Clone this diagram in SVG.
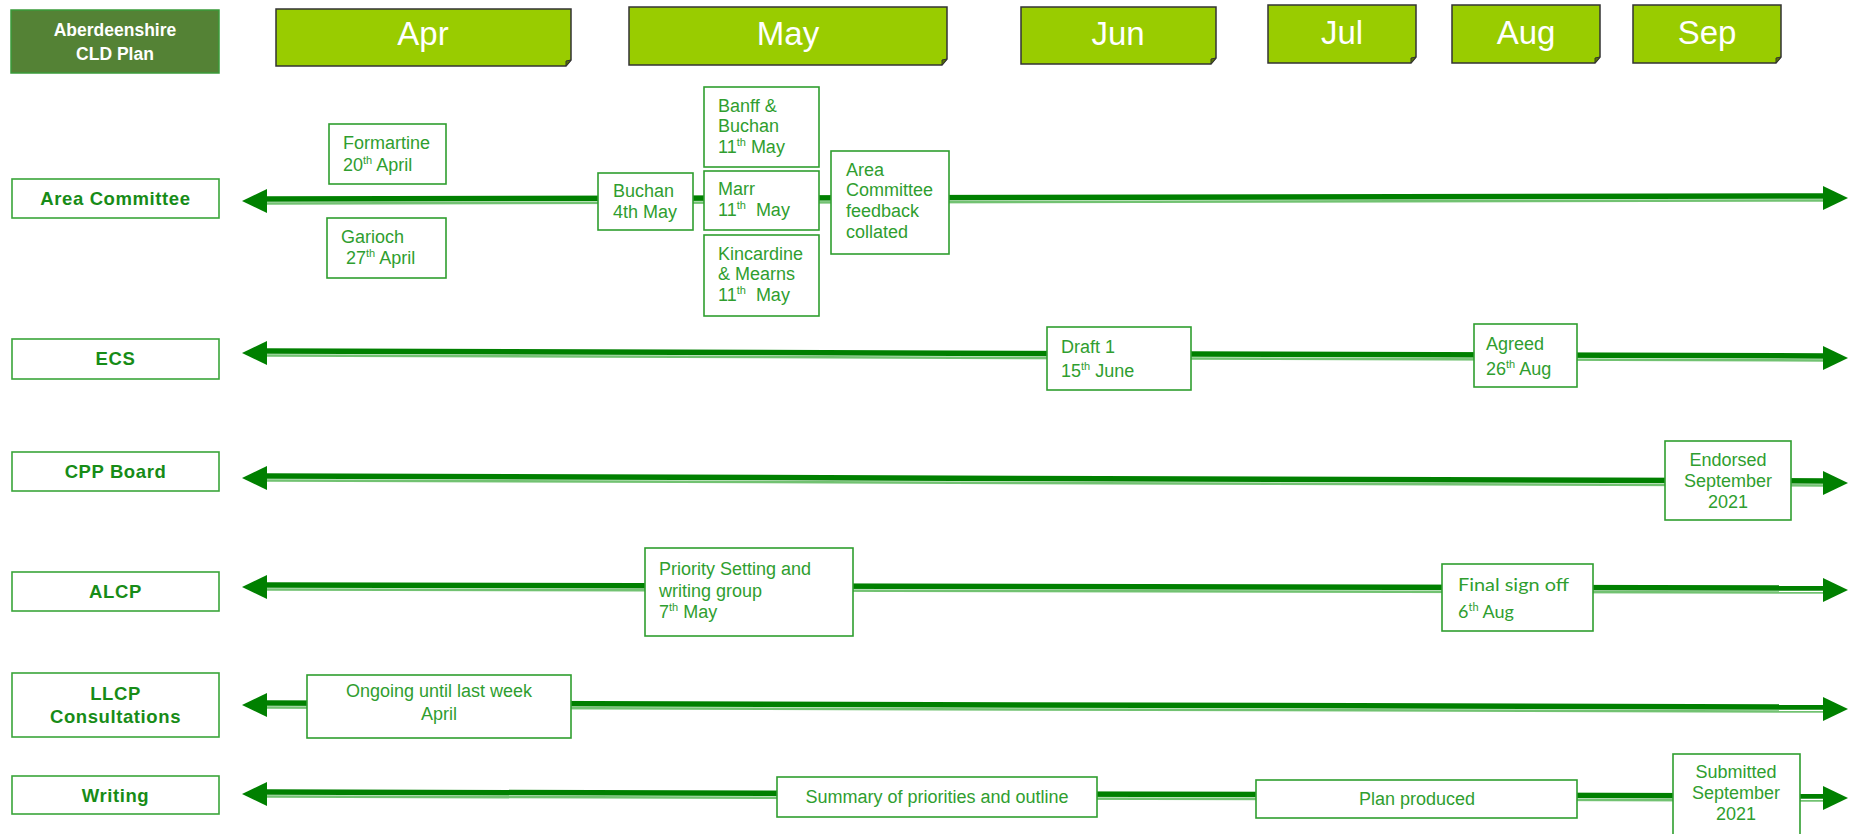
<svg xmlns="http://www.w3.org/2000/svg" width="1849" height="834" viewBox="0 0 1849 834">
<style>
text{font-family:"Liberation Sans",Arial,sans-serif}
.bg{fill:#ffffff}
.lbl rect{fill:#ffffff;stroke:#3aa53a;stroke-width:1.6}
.lbl text{fill:#178c17;font-weight:bold;font-size:18.5px;letter-spacing:0.6px;text-anchor:middle}
.ev rect{fill:#ffffff;stroke:#2f9e2f;stroke-width:1.6}
.ev text{fill:#2f9e2f;font-size:18px}
.ev .c{text-anchor:middle}
.mo path.b{fill:#99cc00;stroke:#333333;stroke-width:1.5}
.mo path.f{fill:#5a7800;stroke:#333333;stroke-width:1}
.mo text{fill:#ffffff;font-size:33px;text-anchor:middle}
.sup{font-size:11px}
.dk{stroke:#008000;stroke-width:5.5;fill:none}
.lt{stroke:#72c272;stroke-width:2.5;fill:none}
.hd{fill:#008000}
.cal{font-family:Lato,"Open Sans","Liberation Sans",sans-serif}
</style>
<rect class="bg" x="0" y="0" width="1849" height="834"/>

<g id="header">
  <rect x="11" y="10" width="208" height="63" fill="#548235" stroke="#3a9a3a" stroke-width="1.5"/>
  <text x="115" y="36" fill="#ffffff" font-size="17.5" font-weight="bold" text-anchor="middle">Aberdeenshire</text>
  <text x="115" y="60" fill="#ffffff" font-size="17.5" font-weight="bold" text-anchor="middle">CLD Plan</text>
</g>

<g id="months" class="mo">
  <g id="m-apr"><path class="b" d="M276,9 H571 V60 L566,66 H276 Z"/><path class="f" d="M571,60 L566,66 L566,61 Z"/><text x="423" y="45">Apr</text></g>
  <g id="m-may"><path class="b" d="M629,7 H947 V59 L942,65 H629 Z"/><path class="f" d="M947,59 L942,65 L942,60 Z"/><text x="788" y="45">May</text></g>
  <g id="m-jun"><path class="b" d="M1021,7 H1216 V58 L1211,64 H1021 Z"/><path class="f" d="M1216,58 L1211,64 L1211,59 Z"/><text x="1118" y="45">Jun</text></g>
  <g id="m-jul"><path class="b" d="M1268,5 H1416 V57 L1411,63 H1268 Z"/><path class="f" d="M1416,57 L1411,63 L1411,58 Z"/><text x="1342" y="44">Jul</text></g>
  <g id="m-aug"><path class="b" d="M1452,5 H1600 V57 L1595,63 H1452 Z"/><path class="f" d="M1600,57 L1595,63 L1595,58 Z"/><text x="1526" y="44">Aug</text></g>
  <g id="m-sep"><path class="b" d="M1633,5 H1781 V57 L1776,63 H1633 Z"/><path class="f" d="M1781,57 L1776,63 L1776,58 Z"/><text x="1707" y="44">Sep</text></g>
</g>

<g id="connectors">
  <!-- Area Committee -->
  <path class="dk" d="M264,199 L1826,196"/><path class="lt" d="M264,203.5 L1826,200.5"/>
  <polygon class="hd" points="242,201 267,189 267,213"/><polygon class="hd" points="1848,198 1823,186 1823,210"/>
  <!-- ECS -->
  <path class="dk" d="M264,351 L1826,356"/><path class="lt" d="M264,355.5 L1826,360.5"/>
  <polygon class="hd" points="242,353 267,341 267,365"/><polygon class="hd" points="1848,358 1823,346 1823,370"/>
  <!-- CPP -->
  <path class="dk" d="M264,476 L1826,481"/><path class="lt" d="M264,480.5 L1826,485.5"/>
  <polygon class="hd" points="242,478 267,466 267,490"/><polygon class="hd" points="1848,483 1823,471 1823,495"/>
  <!-- ALCP -->
  <path class="dk" d="M264,585 L1826,588"/><path class="lt" d="M264,589.5 L1826,592.5"/>
  <polygon class="hd" points="242,587 267,575 267,599"/><polygon class="hd" points="1848,590 1823,578 1823,602"/>
  <!-- LLCP -->
  <path class="dk" d="M264,703 L1826,707"/><path class="lt" d="M264,707.5 L1826,711.5"/>
  <polygon class="hd" points="242,705 267,693 267,717"/><polygon class="hd" points="1848,709 1823,697 1823,721"/>
  <!-- Writing -->
  <path class="dk" d="M264,792 L1826,796"/><path class="lt" d="M264,796.5 L1826,800.5"/>
  <polygon class="hd" points="242,794 267,782 267,806"/><polygon class="hd" points="1848,798 1823,786 1823,810"/>
</g>

<g id="lbl-area" class="lbl"><rect x="12" y="179" width="207" height="39"/><text x="115.5" y="205">Area Committee</text></g>
<g id="lbl-ecs" class="lbl"><rect x="12" y="339" width="207" height="40"/><text x="115.5" y="365">ECS</text></g>
<g id="lbl-cpp" class="lbl"><rect x="12" y="452" width="207" height="39"/><text x="115.5" y="478">CPP Board</text></g>
<g id="lbl-alcp" class="lbl"><rect x="12" y="572" width="207" height="39"/><text x="115.5" y="598">ALCP</text></g>
<g id="lbl-llcp" class="lbl"><rect x="12" y="673" width="207" height="64"/><text x="115.5" y="700">LLCP</text><text x="115.5" y="723">Consultations</text></g>
<g id="lbl-writing" class="lbl"><rect x="12" y="776" width="207" height="38"/><text x="115.5" y="802">Writing</text></g>

<g id="ev-formartine" class="ev"><rect x="329" y="124" width="117" height="60"/>
  <text x="343" y="149">Formartine</text>
  <text x="343" y="171">20<tspan class="sup" dy="-7">th</tspan><tspan dy="7"> April</tspan></text></g>
<g id="ev-garioch" class="ev"><rect x="327" y="218" width="119" height="60"/>
  <text x="341" y="243">Garioch</text>
  <text x="346" y="264">27<tspan class="sup" dy="-7">th</tspan><tspan dy="7"> April</tspan></text></g>
<g id="ev-buchan" class="ev"><rect x="598" y="173" width="95" height="57"/>
  <text x="613" y="197">Buchan</text>
  <text x="613" y="218">4th May</text></g>
<g id="ev-banff" class="ev"><rect x="704" y="87" width="115" height="80"/>
  <text x="718" y="112">Banff &amp;</text>
  <text x="718" y="132">Buchan</text>
  <text x="718" y="153">11<tspan class="sup" dy="-7">th</tspan><tspan dy="7"> May</tspan></text></g>
<g id="ev-marr" class="ev"><rect x="704" y="171" width="115" height="59"/>
  <text x="718" y="195">Marr</text>
  <text x="718" y="216">11<tspan class="sup" dy="-7">th</tspan><tspan dy="7" dx="5"> May</tspan></text></g>
<g id="ev-kincardine" class="ev"><rect x="704" y="235" width="115" height="81"/>
  <text x="718" y="260">Kincardine</text>
  <text x="718" y="280">&amp; Mearns</text>
  <text x="718" y="301">11<tspan class="sup" dy="-7">th</tspan><tspan dy="7" dx="5"> May</tspan></text></g>
<g id="ev-feedback" class="ev"><rect x="831" y="151" width="118" height="103"/>
  <text x="846" y="176">Area</text>
  <text x="846" y="196">Committee</text>
  <text x="846" y="217">feedback</text>
  <text x="846" y="238">collated</text></g>
<g id="ev-draft" class="ev"><rect x="1047" y="327" width="144" height="63"/>
  <text x="1061" y="353">Draft 1</text>
  <text x="1061" y="377">15<tspan class="sup" dy="-7">th</tspan><tspan dy="7"> June</tspan></text></g>
<g id="ev-agreed" class="ev"><rect x="1474" y="324" width="103" height="63"/>
  <text x="1486" y="350">Agreed</text>
  <text x="1486" y="375">26<tspan class="sup" dy="-7">th</tspan><tspan dy="7"> Aug</tspan></text></g>
<g id="ev-endorsed" class="ev"><rect x="1665" y="441" width="126" height="79"/>
  <text class="c" x="1728" y="466">Endorsed</text>
  <text class="c" x="1728" y="487">September</text>
  <text class="c" x="1728" y="508">2021</text></g>
<g id="ev-priority" class="ev"><rect x="645" y="548" width="208" height="88"/>
  <text x="659" y="575">Priority Setting and</text>
  <text x="659" y="597">writing group</text>
  <text x="659" y="618">7<tspan class="sup" dy="-7">th</tspan><tspan dy="7"> May</tspan></text></g>
<g id="ev-final" class="ev"><rect x="1442" y="564" width="151" height="67"/>
  <text class="cal" x="1458" y="591" font-size="19" textLength="111" lengthAdjust="spacingAndGlyphs">Final sign off</text>
  <text class="cal" x="1458" y="618" font-size="19">6<tspan class="sup" dy="-7">th</tspan><tspan dy="7"> Aug</tspan></text></g>
<g id="ev-ongoing" class="ev"><rect x="307" y="675" width="264" height="63"/>
  <text class="c" x="439" y="697">Ongoing until last week</text>
  <text class="c" x="439" y="720">April</text></g>
<g id="ev-summary" class="ev"><rect x="777" y="777" width="320" height="40"/>
  <text class="c" x="937" y="803">Summary of priorities and outline</text></g>
<g id="ev-plan" class="ev"><rect x="1256" y="780" width="321" height="38"/>
  <text class="c" x="1417" y="805">Plan produced</text></g>
<g id="ev-submitted" class="ev"><rect x="1673" y="754" width="127" height="86"/>
  <text class="c" x="1736" y="778">Submitted</text>
  <text class="c" x="1736" y="799">September</text>
  <text class="c" x="1736" y="820">2021</text></g>
</svg>
